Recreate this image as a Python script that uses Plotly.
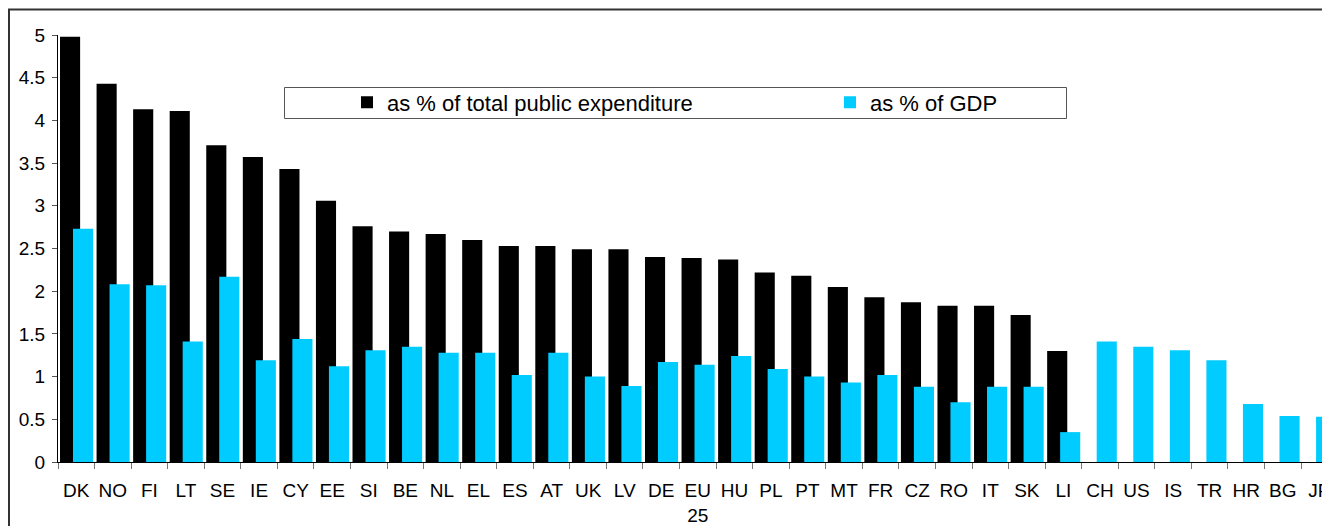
import plotly.graph_objects as go

countries = ["DK", "NO", "FI", "LT", "SE", "IE", "CY", "EE", "SI", "BE", "NL", "EL",
             "ES", "AT", "UK", "LV", "DE", "EU<br>25", "HU", "PL", "PT", "MT", "FR", "CZ",
             "RO", "IT", "SK", "LI", "CH", "US", "IS", "TR", "HR", "BG", "JP"]

pct_public_exp = [4.98, 4.43, 4.13, 4.11, 3.71, 3.57, 3.43, 3.06, 2.76, 2.70, 2.67, 2.60,
                  2.53, 2.53, 2.49, 2.49, 2.40, 2.39, 2.37, 2.22, 2.18, 2.05, 1.93, 1.87,
                  1.83, 1.83, 1.72, 1.30, None, None, None, None, None, None, None]

pct_gdp = [2.73, 2.08, 2.07, 1.41, 2.17, 1.19, 1.44, 1.12, 1.31, 1.35, 1.28, 1.28,
           1.02, 1.28, 1.00, 0.89, 1.17, 1.14, 1.24, 1.09, 1.00, 0.93, 1.02, 0.88,
           0.70, 0.88, 0.88, 0.35, 1.41, 1.35, 1.31, 1.19, 0.68, 0.54, 0.53]

y_ticks = [0, 0.5, 1, 1.5, 2, 2.5, 3, 3.5, 4, 4.5, 5]
y_tick_labels = ["0", "0.5", "1", "1.5", "2", "2.5", "3", "3.5", "4", "4.5", "5"]

# page offset introduced by the default <body> margin
OFF = 8
W, H = 1330, 526
L, R, T, B = 50, 0, 27, 72
PW = W - L - R
PH = H - T - B


def px(x_page):
    return (x_page - OFF - L) / PW


def py(y_page):
    return (H - B - (y_page - OFF)) / PH


FONT = "Liberation Sans, Arial, sans-serif"

fig = go.Figure()
fig.add_trace(go.Bar(
    x=countries, y=pct_public_exp, name="as % of total public expenditure",
    marker=dict(color="#000000", line=dict(width=0)),
    offset=-0.445, width=0.55,
))
fig.add_trace(go.Bar(
    x=countries, y=pct_gdp, name="as % of GDP",
    marker=dict(color="#00CCFF", line=dict(width=0)),
    offset=-0.09, width=0.55,
))

# outer chart frame (top and left edges visible)
fig.add_shape(type="line", xref="paper", yref="paper",
              x0=px(8), x1=px(1345), y0=py(9.5), y1=py(9.5),
              line=dict(color="#333333", width=2))
fig.add_shape(type="line", xref="paper", yref="paper",
              x0=px(9), x1=px(9), y0=py(9.5), y1=py(540),
              line=dict(color="#333333", width=2))
# legend box
fig.add_shape(type="rect", xref="paper", yref="paper",
              x0=px(284.5), x1=px(1066.5), y0=py(87.5), y1=py(118.5),
              line=dict(color="#555555", width=1), fillcolor="white", layer="above")

fig.update_layout(
    width=W, height=H,
    margin=dict(l=L, r=R, t=T, b=B, pad=0, autoexpand=False),
    paper_bgcolor="white", plot_bgcolor="white",
    barmode="overlay",
    font=dict(family=FONT, size=19, color="#000000"),
    showlegend=True,
    legend=dict(
        orientation="h", x=px(347), xanchor="left", y=py(102.5), yanchor="middle",
        bgcolor="rgba(0,0,0,0)", borderwidth=0,
        font=dict(family=FONT, size=22, color="#000000"),
        entrywidth=438, entrywidthmode="pixels", traceorder="normal",
    ),
    xaxis=dict(
        type="category", range=[-0.5, 34.51], automargin=False,
        showline=True, linecolor="#000000", linewidth=1,
        ticks="outside", tickson="boundaries", ticklen=6, tickcolor="#777777", tickwidth=1,
        showgrid=False, zeroline=False, ticklabelstandoff=11, tickangle=0,
        tickfont=dict(family=FONT, size=19, color="#000000"),
    ),
    yaxis=dict(
        range=[0, 5], tickvals=y_ticks, ticktext=y_tick_labels, automargin=False,
        showline=True, linecolor="#000000", linewidth=1,
        ticks="outside", ticklen=5, tickcolor="#555555", tickwidth=1,
        showgrid=False, zeroline=False, ticklabelstandoff=3,
        tickfont=dict(family=FONT, size=19, color="#000000"),
    ),
)

fig.write_html("out.html")
